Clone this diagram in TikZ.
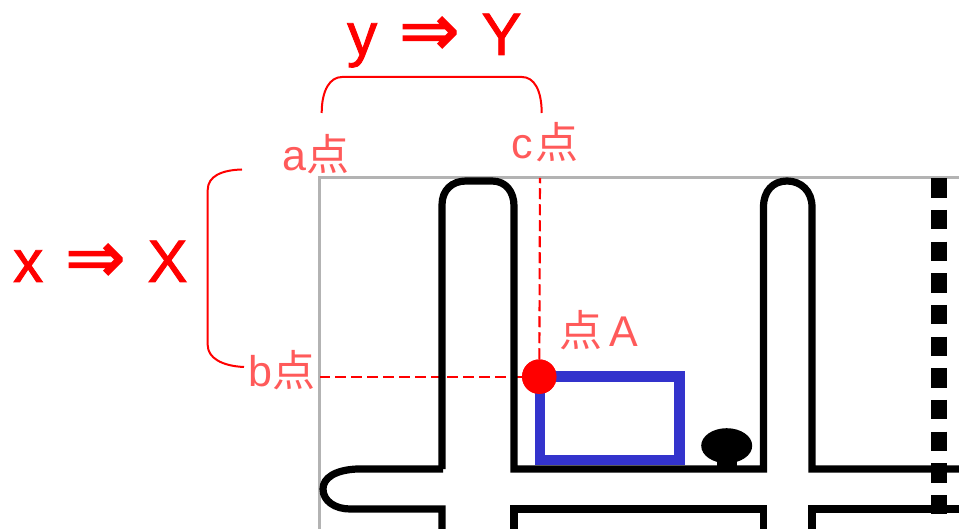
\documentclass[tikz,border=0pt]{standalone}
\usepackage{fontspec}
\setmainfont{Liberation Sans}
\newfontfamily\cjkfont{Noto Sans CJK SC}
\newfontfamily\symfont[FakeBold=2]{DejaVu Sans}
\newfontfamily\bigfont[FakeBold=1.5]{Liberation Sans}
\definecolor{pinkred}{HTML}{FF5A5A}
\definecolor{rectblue}{HTML}{3333CC}
\definecolor{framegray}{HTML}{B3B3B3}
\tikzset{
  wall/.style={draw=black,line width=7.2pt,line join=miter},
  brace/.style={draw=red,line width=2pt},
  guide/.style={draw=red,line width=2.1pt,dash pattern=on 11pt off 5pt},
  biglabel/.style={text=red,inner sep=0pt,anchor=base west,font=\bigfont\fontsize{60}{60}\selectfont},
  ptlabel/.style={text=pinkred,inner sep=0pt,anchor=base west,font=\fontsize{43}{43}\selectfont},
}
\newcommand{\bigarrow}{{\symfont\fontsize{72}{72}\selectfont ⇒}}
\begin{document}
\begin{tikzpicture}[x=1pt,y=-1pt]
\useasboundingbox (0,0) rectangle (959,529);
\clip (0,0) rectangle (959,529);
% frame
\draw[framegray,line width=3pt] (319,529) -- (319,178) -- (959,178);
% coordinates
\coordinate (aTop) at (540,178);
\coordinate (bLeft) at (320,376.7);
\node[circle,fill=red,minimum size=34.5pt,inner sep=0pt] (ptA) at (539.3,376.7) {};
% guides (under walls)
\draw[guide] (ptA) -- (aTop);
\draw[guide] (ptA) -- (bLeft);
% blue rectangle
\draw[rectblue,line width=10.8pt,line join=miter] (540,376.2) rectangle (679.6,460);
\node[circle,fill=red,minimum size=34.5pt,inner sep=0pt] at (ptA) {};
% blob
\fill[black] (726.7,445.7) ellipse [x radius=25.5,y radius=17.5];
\fill[black] (717,455) rectangle (737,469);
% walls
\draw[wall] (442,469) -- (442,205) .. controls (442,190) and (452,181) .. (466,181) -- (492,181) .. controls (506,181) and (514,192) .. (514,206) -- (514,469) -- (763.5,469) -- (763.5,207) .. controls (763.5,191) and (773,181) .. (787,181) .. controls (801,181) and (812,191) .. (812,207) -- (812,469) -- (960,469);
\draw[wall] (443,469) -- (357,469) .. controls (335,470) and (323,478) .. (323,489) .. controls (323,501) and (335,509) .. (350,509) -- (442,509) -- (442,530);
\draw[wall] (514,530) -- (514,509) -- (763.5,509) -- (763.5,530);
\draw[wall] (812,530) -- (812,509) -- (960,509);
% black dashed line
\draw[black,line width=16pt,dash pattern=on 19.4pt off 12.27pt] (939,178.3) -- (939,514.5);
% braces
\coordinate (tl) at (321.7,113);
\coordinate (tr) at (541.7,113);
\draw[brace] (tl) .. controls (321.7,90) and (330,77) .. (342,77) -- (522,77) .. controls (534,77) and (541.7,90) .. (tr);
\coordinate (lt) at (242,169.5);
\coordinate (lb) at (244,367);
\draw[brace] (lt) .. controls (222,170) and (207.7,176) .. (207.7,190) -- (207.7,345) .. controls (207.7,358) and (222,366) .. (lb);
% big labels
\node[biglabel] (yY) at (347,55) {y\hspace{22pt}\bigarrow\hspace{22pt}Y};
\node[biglabel] (xX) at (13,282) {x\hspace{22pt}\bigarrow\hspace{22pt}X};
% point labels
\node[ptlabel] (la) at (282,171) {a\hspace{0pt}{\cjkfont 点}};
\node[ptlabel] (lc) at (511,159) {c\hspace{3pt}{\cjkfont 点}};
\node[ptlabel] (lb2) at (248,387) {b\hspace{0pt}{\cjkfont 点}};
\node[ptlabel] (lA) at (559,347) {{\cjkfont 点}\hspace{7pt}A};
\end{tikzpicture}
\end{document}
